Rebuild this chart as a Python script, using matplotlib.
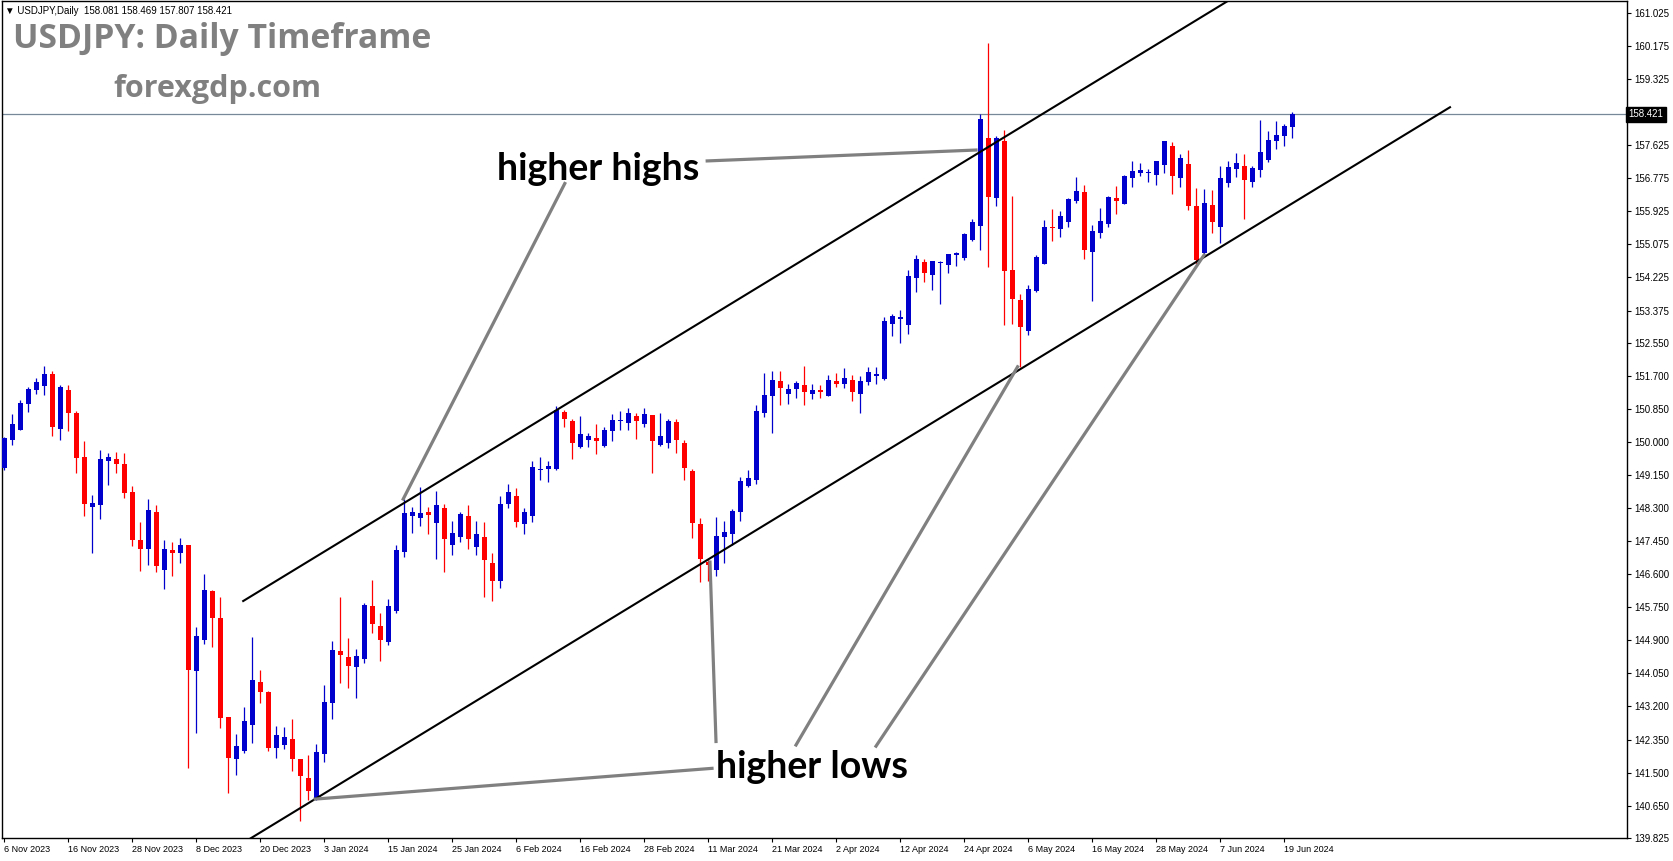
import numpy as np
import matplotlib.pyplot as plt
from matplotlib.transforms import blended_transform_factory

# daily OHLC, USDJPY, 6 Nov 2023 .. 20 Jun 2024 (bar index = trading day)
opens = [149.34, 150.05, 150.31, 150.98, 151.33, 151.44, 151.75, 150.34, 151.33, 150.74,
         149.61, 148.33, 148.39, 149.52, 149.56, 149.43, 148.71, 147.49, 147.25, 148.20,
         146.72, 147.22, 147.15, 147.35, 144.12, 144.92, 146.17, 145.47, 142.93, 141.86,
         142.05, 142.73, 143.84, 143.58, 142.14, 142.22, 142.36, 141.85, 141.36, 140.81,
         141.99, 143.29, 144.62, 144.48, 144.22, 144.43, 145.78, 145.28, 144.86, 145.65,
         147.17, 148.10, 148.05, 148.21, 147.92, 148.29, 147.36, 147.56, 148.09, 147.31,
         147.55, 146.89, 146.43, 148.41, 148.60, 147.90, 148.10, 149.28, 149.30, 149.31,
         150.78, 150.53, 149.88, 150.05, 150.10, 149.89, 150.28, 150.53, 150.49, 150.66,
         150.47, 150.69, 149.92, 149.96, 150.50, 149.97, 149.24, 147.89, 146.91, 146.70,
         147.55, 147.64, 148.21, 148.87, 149.01, 150.75, 151.19, 151.57, 151.22, 151.36,
         151.47, 151.22, 151.31, 151.19, 151.57, 151.49, 151.59, 151.24, 151.55, 151.70,
         151.62, 153.04, 153.15, 153.01, 154.20, 154.61, 154.28, 154.60, 154.54, 154.81,
         154.73, 155.20, 155.55, 157.81, 156.28, 157.72, 154.42, 153.65, 152.86, 153.88,
         154.57, 155.52, 155.48, 155.66, 156.18, 156.42, 154.88, 155.38, 155.60, 156.28,
         156.12, 156.77, 156.90, 156.90, 156.86, 157.12, 157.61, 156.78, 157.14, 156.06,
         154.86, 156.08, 155.53, 156.66, 157.01, 157.09, 156.69, 156.99, 157.25, 157.72,
         157.87, 158.081]
highs = [150.12, 150.72, 151.08, 151.42, 151.64, 151.95, 151.81, 151.46, 151.46, 150.79,
         150.02, 148.63, 149.79, 149.71, 149.74, 149.71, 148.87, 147.94, 148.53, 148.38,
         147.48, 147.43, 147.52, 147.35, 145.25, 146.60, 146.20, 146.02, 142.93, 142.49,
         143.19, 144.99, 144.14, 143.60, 142.70, 142.67, 142.88, 141.85, 141.95, 142.23,
         143.75, 144.88, 146.02, 144.97, 144.67, 145.87, 146.45, 145.61, 145.97, 147.36,
         148.53, 148.33, 148.84, 148.33, 148.74, 148.40, 147.97, 148.21, 148.37, 147.97,
         147.94, 147.14, 148.61, 148.92, 148.81, 148.30, 149.51, 149.60, 149.52, 150.92,
         150.82, 150.58, 150.67, 150.23, 150.47, 150.39, 150.72, 150.79, 150.87, 150.73,
         150.86, 150.69, 150.73, 150.59, 150.58, 150.04, 149.31, 148.04, 146.98, 148.08,
         147.97, 148.27, 149.10, 149.29, 150.94, 151.78, 151.83, 151.83, 151.50, 151.57,
         151.94, 151.50, 151.47, 151.72, 151.76, 151.91, 151.73, 151.69, 151.92, 151.92,
         153.20, 153.29, 153.38, 154.42, 154.79, 154.70, 154.66, 154.66, 154.84, 154.89,
         155.36, 155.74, 158.42, 160.25, 157.86, 158.02, 156.32, 153.80, 154.03, 154.79,
         155.70, 155.99, 155.94, 156.28, 156.80, 156.60, 155.58, 156.01, 156.32, 156.58,
         156.86, 157.22, 157.16, 157.01, 157.22, 157.74, 157.71, 157.41, 157.50, 156.52,
         156.50, 156.48, 157.09, 157.22, 157.43, 157.40, 157.08, 158.27, 157.98, 158.25,
         158.16, 158.469]
lows = [149.29, 149.92, 150.30, 150.78, 151.24, 151.21, 150.16, 150.06, 150.29, 149.21,
        148.10, 147.15, 148.03, 148.90, 149.21, 148.57, 147.33, 146.69, 146.84, 146.66,
        146.23, 146.56, 146.89, 141.63, 142.51, 144.81, 144.74, 142.65, 140.98, 141.44,
        142.01, 142.27, 143.28, 142.06, 141.88, 142.10, 141.55, 140.26, 140.79, 140.79,
        141.78, 142.87, 143.81, 143.68, 143.42, 144.33, 145.08, 144.38, 144.78, 145.61,
        147.05, 147.67, 147.84, 147.63, 146.99, 146.66, 147.09, 147.43, 147.25, 147.10,
        146.02, 145.92, 146.24, 148.29, 147.82, 147.64, 147.95, 149.03, 148.96, 149.29,
        150.37, 149.55, 149.85, 149.88, 149.70, 149.87, 150.02, 150.31, 150.31, 150.07,
        150.38, 149.21, 149.90, 149.85, 149.72, 149.01, 147.52, 146.39, 146.42, 146.56,
        146.89, 147.36, 147.97, 148.84, 148.91, 150.65, 150.23, 150.94, 150.98, 151.14,
        150.96, 151.10, 151.12, 151.17, 151.40, 151.38, 151.06, 150.75, 151.47, 151.50,
        151.58, 152.73, 152.54, 152.77, 153.86, 154.11, 153.90, 153.54, 154.33, 154.51,
        154.68, 155.15, 154.94, 154.49, 156.05, 153.00, 153.03, 151.93, 152.75, 153.86,
        154.56, 155.16, 155.27, 155.53, 156.13, 154.70, 153.61, 155.25, 155.51, 155.86,
        156.11, 156.54, 156.84, 156.67, 156.59, 156.92, 156.38, 156.55, 155.96, 154.56,
        154.79, 155.38, 155.12, 156.56, 156.80, 155.74, 156.56, 156.80, 157.20, 157.53,
        157.61, 157.807]
closes = [150.09, 150.46, 151.00, 151.35, 151.54, 151.75, 150.39, 151.41, 150.75, 149.59,
          148.41, 148.43, 149.56, 149.61, 149.44, 148.69, 147.49, 147.25, 148.25, 146.82,
          147.25, 147.15, 147.35, 144.14, 145.01, 146.19, 145.48, 142.91, 141.88, 142.18,
          142.83, 143.88, 143.58, 142.14, 142.47, 142.42, 141.86, 141.42, 141.03, 142.03,
          143.31, 144.65, 144.52, 144.25, 144.51, 145.81, 145.31, 144.92, 145.78, 147.22,
          148.17, 148.19, 148.17, 148.13, 148.39, 147.51, 147.67, 148.15, 147.50, 147.63,
          146.97, 146.43, 148.40, 148.70, 147.95, 148.19, 149.35, 149.31, 149.37, 150.82,
          150.60, 149.96, 150.20, 150.14, 150.01, 150.30, 150.56, 150.56, 150.74, 150.53,
          150.72, 150.01, 150.14, 150.54, 150.05, 149.33, 147.92, 146.98, 146.84, 147.57,
          147.69, 148.23, 148.99, 149.08, 150.79, 151.20, 151.59, 151.38, 151.36, 151.52,
          151.28, 151.33, 151.29, 151.59, 151.49, 151.64, 151.27, 151.57, 151.80, 151.74,
          153.10, 153.24, 153.22, 154.25, 154.71, 154.33, 154.64, 154.63, 154.82, 154.84,
          155.33, 155.64, 158.31, 156.30, 157.81, 154.38, 153.67, 152.94, 153.93, 154.74,
          155.52, 155.49, 155.81, 156.25, 156.45, 154.92, 155.42, 155.68, 156.30, 156.20,
          156.84, 156.96, 156.99, 156.94, 157.22, 157.72, 156.82, 157.30, 156.06, 154.68,
          156.13, 155.64, 156.78, 157.06, 157.17, 156.73, 157.03, 157.44, 157.76, 157.89,
          158.12, 158.421]

date_labels = ['6 Nov 2023', '16 Nov 2023', '28 Nov 2023', '8 Dec 2023', '20 Dec 2023',
               '3 Jan 2024', '15 Jan 2024', '25 Jan 2024', '6 Feb 2024', '16 Feb 2024',
               '28 Feb 2024', '11 Mar 2024', '21 Mar 2024', '2 Apr 2024', '12 Apr 2024',
               '24 Apr 2024', '6 May 2024', '16 May 2024', '28 May 2024', '7 Jun 2024',
               '19 Jun 2024']
price_ticks = [161.025, 160.175, 159.325, 157.625, 156.775, 155.925, 155.075, 154.225,
               153.375, 152.550, 151.700, 150.850, 150.000, 149.150, 148.300, 147.450,
               146.600, 145.750, 144.900, 144.050, 143.200, 142.350, 141.500, 140.650,
               139.825]
last_price = 158.421

# channel lines (bar index, price)
upper_x = [29.9, 160.0]
upper_y = [145.91, 162.21]
lower_x = [30.5, 180.75]
lower_y = [139.77, 158.60]

# gray pointer lines from the labels
highs_lines = [([87.9, 121.5], [157.22, 157.50]),
               ([70.1, 49.9], [156.64, 148.53])]
lows_lines = [([88.5, 38.9], [141.61, 140.82]),
              ([89.0, 88.25], [142.30, 146.91]),
              ([99.0, 126.7], [142.21, 151.93]),
              ([109.0, 150.0], [142.18, 154.80])]

W, H = 1673, 861
fig = plt.figure(figsize=(W / 100, H / 100), dpi=100)
ax = fig.add_axes([2 / W, 23 / H, 1625 / W, 837 / H])

o = np.array(opens)
c = np.array(closes)
idx = np.arange(len(o))
colors = np.where(c >= o, '#0000CD', '#FF0000')
body_lo = np.minimum(o, c)
body_h = np.maximum(np.abs(c - o), 0.035)

ax.vlines(idx, lows, highs, colors=colors, lw=0.9, zorder=2)
ax.bar(idx, body_h, bottom=body_lo, width=0.625, color=colors, linewidth=0, zorder=3)

ax.axhline(last_price, color='#778899', lw=0.9, zorder=1)

ax.plot(upper_x, upper_y, color='black', lw=1.5, zorder=4)
ax.plot(lower_x, lower_y, color='black', lw=1.5, zorder=4)
for xs, ys in highs_lines + lows_lines:
    ax.plot(xs, ys, color='#808080', lw=2.3, zorder=5)

ax.text(61.6, 156.73, 'higher highs', fontsize=27, fontweight='bold',
        family='Lato', color='black', va='baseline', zorder=6)
ax.text(89.0, 141.36, 'higher lows', fontsize=27, fontweight='bold',
        family='Lato', color='black', va='baseline', zorder=6)

ax.set_xlim(-0.25, 202.875)
ax.set_ylim(139.82, 161.33)

ax.yaxis.tick_right()
ax.set_yticks(price_ticks)
ax.set_yticklabels(['%.3f' % p for p in price_ticks], family='Liberation Sans', fontsize=7)
ax.tick_params(axis='y', direction='out', length=3, width=0.8, pad=2)

ax.set_xticks([8 * i for i in range(len(date_labels))])
ax.set_xticklabels(date_labels, family='Liberation Sans', fontsize=6.5)
for lbl in ax.get_xticklabels():
    lbl.set_ha('left')
ax.tick_params(axis='x', direction='out', length=3, width=0.8, pad=2)

for sp in ax.spines.values():
    sp.set_color('black')
    sp.set_linewidth(1.0)

tr = blended_transform_factory(ax.transAxes, ax.transData)
ax.text(1.001, last_price, '%.3f' % last_price, transform=tr, fontsize=7,
        family='Liberation Sans', color='white', va='center', ha='left', zorder=10,
        bbox=dict(boxstyle='square,pad=0.25', fc='black', ec='black'))

fig.text(5 / W, 1 - 11 / H, '\u25bc USDJPY,Daily  158.081 158.469 157.807 158.421',
         fontsize=7, family=['Liberation Sans', 'DejaVu Sans'], va='center')
fig.text(13 / W, 1 - 48 / H, 'USDJPY: Daily Timeframe', fontsize=24.3, fontweight='bold',
         family='Open Sans', color='#808080', va='baseline')
fig.text(113 / W, 1 - 97 / H, 'forexgdp.com', fontsize=22, fontweight='bold',
         family='Open Sans', color='#808080', va='baseline')

fig.savefig('out.png', dpi=100)
